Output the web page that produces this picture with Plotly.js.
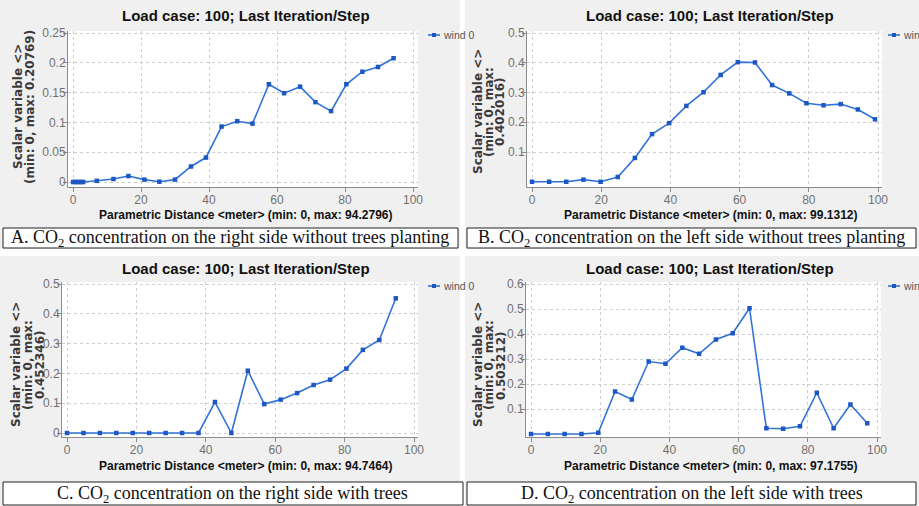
<!DOCTYPE html>
<html><head><meta charset="utf-8">
<script src="https://cdn.plot.ly/plotly-3.0.1.min.js"></script>
<style>html,body{margin:0;padding:0;background:#fff}#chart{width:919px;height:506px}</style>
</head><body><div id="chart"></div>
<script>
// ---- data ----
const seriesName = "wind 0";
const chartTitle = "Load case: 100; Last Iteration/Step";

const xA = [0,0.6,1.2,1.8,2.4,3.0,7.0,11.9,16.3,21.0,25.4,30.0,34.7,39.1,43.7,48.3,52.8,57.6,62.1,66.8,71.3,75.9,80.4,85.1,89.7,94.28];
const yA = [0,0,0,0,0,0,0.002,0.005,0.010,0.004,0.0005,0.004,0.026,0.041,0.093,0.102,0.098,0.164,0.149,0.160,0.134,0.119,0.164,0.185,0.193,0.2077];

const xB = [0,4.96,9.91,14.87,19.83,24.78,29.74,34.70,39.65,44.61,49.57,54.52,59.48,64.44,69.39,74.35,79.31,84.26,89.22,94.18,99.13];
const yB = [0,0,0,0.007,0,0.016,0.08,0.16,0.197,0.255,0.301,0.359,0.402,0.401,0.325,0.297,0.264,0.257,0.261,0.243,0.21];

const xC = [0,4.74,9.47,14.21,18.95,23.69,28.42,33.16,37.90,42.64,47.37,52.11,56.85,61.59,66.32,71.06,75.80,80.53,85.27,90.01,94.75];
const yC = [0,0,0,0,0,0,0,0,0,0.104,0,0.209,0.097,0.112,0.134,0.161,0.179,0.216,0.279,0.312,0.452];

const xD = [0,4.86,9.72,14.58,19.44,24.29,29.15,34.01,38.87,43.73,48.59,53.45,58.31,63.16,68.02,72.88,77.74,82.60,87.46,92.32,97.18];
const yD = [0,0,0,0,0.005,0.17,0.138,0.29,0.281,0.345,0.321,0.378,0.403,0.503,0.023,0.021,0.031,0.165,0.023,0.118,0.043];

const xTitles = [
  "Parametric Distance &lt;meter&gt; (min: 0, max: 94.2796)",
  "Parametric Distance &lt;meter&gt; (min: 0, max: 99.1312)",
  "Parametric Distance &lt;meter&gt; (min: 0, max: 94.7464)",
  "Parametric Distance &lt;meter&gt; (min: 0, max: 97.1755)"
];
const yTitleLines = [
  ["Scalar variable &lt;&gt;", "(min: 0, max: 0.20769)"],
  ["Scalar variable &lt;&gt;", "(min: 0, max:", "0.402016)"],
  ["Scalar variable &lt;&gt;", "(min: 0, max:", "0.452346)"],
  ["Scalar variable &lt;&gt;", "(min: 0, max:", "0.503212)"]
];
const captions = [
  "A. CO<sub>2</sub> concentration on the right side without trees planting",
  "B. CO<sub>2</sub> concentration on the left side without trees planting",
  "C. CO<sub>2</sub> concentration on the right side with trees",
  "D. CO<sub>2</sub> concentration on the left side with trees"
];
const yTickVals = [
  [0,0.05,0.1,0.15,0.2,0.25],
  [0.1,0.2,0.3,0.4,0.5],
  [0,0.1,0.2,0.3,0.4,0.5],
  [0.1,0.2,0.3,0.4,0.5,0.6]
];
const xTickVals = [0,20,40,60,80,100];

// ---- layout geometry (pixels) ----
const W = 919, H = 506;
const fx = p => p / W, fy = p => 1 - p / H;
const panels = [
  {l:68, r:418, t:31, b:187, x0:73, x100:413, yv1:0, yp1:182, yv2:0.25, yp2:33, cx:246, titleY:15, xtY:215, ytX:[18,30], ytY:107, cap:[3,458,228,248], leg:[428,35]},
  {l:527, r:882, t:31, b:187, x0:532, x100:878, yv1:0.1, yp1:152, yv2:0.5, yp2:33, cx:710, titleY:15, xtY:215, ytX:[478,489,500], ytY:112, cap:[467,916,228,248], leg:[888,35]},
  {l:62, r:418, t:282, b:437, x0:67, x100:414, yv1:0, yp1:433, yv2:0.5, yp2:284, cx:246, titleY:268, xtY:466, ytX:[16,28,40], ytY:365, cap:[3,463,482,505], leg:[428,286]},
  {l:526, r:881, t:282, b:437, x0:531, x100:877, yv1:0.1, yp1:409, yv2:0.6, yp2:284, cx:710, titleY:268, xtY:466, ytX:[478,489,501], ytY:365, cap:[467,916,482,505], leg:[888,286]}
];
const xs = [xA,xB,xC,xD], ys = [yA,yB,yC,yD];

const narrow = "Liberation Sans Narrow, Liberation Sans, sans-serif";
const tickFont = {family:narrow, size:12, color:"#707070"};
const lineColor = "#3072d6", markerColor = "#1c58c4";
const layout = {
  width:W, height:H, margin:{l:0,r:0,t:0,b:0},
  paper_bgcolor:"#f0f0f0", plot_bgcolor:"#ffffff",
  showlegend:false, annotations:[], shapes:[]
};
const data = [];
panels.forEach((p,i)=>{
  const n = i===0 ? "" : String(i+1);
  const sx = (p.x100 - p.x0)/100;
  const sy = (p.yp1 - p.yp2)/(p.yv2 - p.yv1);
  const y0px = p.yp1 + p.yv1*sy;
  const xr = [(p.l - p.x0)/sx, (p.r - p.x0)/sx];
  const yr = [(y0px - p.b)/sy, (y0px - p.t)/sy];
  const axCommon = {showline:true, linecolor:"#8c8c8c", linewidth:1, ticks:"outside", ticklen:4, tickcolor:"#8c8c8c",
    showgrid:true, gridcolor:"#cfcfcf", griddash:"dot", gridwidth:1, zeroline:false, tickfont:tickFont, fixedrange:true, automargin:false};
  layout["xaxis"+n] = Object.assign({}, axCommon, {domain:[fx(p.l), fx(p.r)], range:xr, anchor:"y"+n, tickvals:xTickVals, ticklabelstandoff:-2});
  layout["yaxis"+n] = Object.assign({}, axCommon, {domain:[fy(p.b), fy(p.t)], range:yr, anchor:"x"+n, tickvals:yTickVals[i], ticklabelstandoff:-5});
  data.push({x:xs[i], y:ys[i], type:"scatter", mode:"lines+markers", name:seriesName,
    xaxis:"x"+n, yaxis:"y"+n,
    line:{color:lineColor, width:1.6}, marker:{symbol:"square", size:4.5, color:markerColor}, cliponaxis:false});
  layout.annotations.push({text:"<b>"+chartTitle+"</b>", x:fx(p.cx), y:fy(p.titleY), xref:"paper", yref:"paper",
    xanchor:"center", yanchor:"middle", showarrow:false,
    font:{family:narrow, size:15, color:"#111"}});
  layout.annotations.push({text:"<b>"+xTitles[i]+"</b>", x:fx(p.cx), y:fy(p.xtY), xref:"paper", yref:"paper",
    xanchor:"center", yanchor:"middle", showarrow:false,
    font:{family:narrow, size:12, color:"#111"}});
  yTitleLines[i].forEach((t,k)=>{
    layout.annotations.push({text:"<b>"+t+"</b>", x:fx(p.ytX[k]), y:fy(p.ytY), xref:"paper", yref:"paper",
      xanchor:"center", yanchor:"middle", showarrow:false, textangle:-90,
      font:{family:"DejaVu Sans, sans-serif", size:12, color:"#3a3a3a"}});
  });
  // legend (drawn manually so it can sit at the panel edge like the original)
  const lg = p.leg;
  layout.shapes.push({type:"line", xref:"paper", yref:"paper", x0:fx(lg[0]), x1:fx(lg[0]+12), y0:fy(lg[1]), y1:fy(lg[1]),
    line:{color:lineColor, width:1.6}});
  layout.shapes.push({type:"rect", xref:"paper", yref:"paper", x0:fx(lg[0]+4), x1:fx(lg[0]+8), y0:fy(lg[1]+2), y1:fy(lg[1]-2),
    line:{width:0}, fillcolor:markerColor});
  layout.annotations.push({text:seriesName, x:fx(lg[0]+13), y:fy(lg[1]), xref:"paper", yref:"paper",
    xanchor:"left", yanchor:"middle", showarrow:false, font:{family:narrow, size:10.5, color:"#555"}});
  // caption box
  const c = p.cap;
  layout.shapes.push({type:"rect", xref:"paper", yref:"paper", x0:fx(c[0]), x1:fx(c[1]), y0:fy(c[3]), y1:fy(c[2]),
    line:{color:"#222", width:1}, fillcolor:"#ffffff", layer:"above"});
  layout.annotations.push({text:captions[i], x:fx((c[0]+c[1])/2), y:fy((c[2]+c[3])/2+1), xref:"paper", yref:"paper",
    xanchor:"center", yanchor:"middle", showarrow:false,
    font:{family:"Liberation Serif, Times New Roman, serif", size:18, color:"#111"}});
});
// white separators between the screenshots
layout.shapes.push({type:"rect", xref:"paper", yref:"paper", x0:0, x1:1, y0:fy(256), y1:fy(249), line:{width:0}, fillcolor:"#ffffff", layer:"below"});
layout.shapes.push({type:"rect", xref:"paper", yref:"paper", x0:fx(460), x1:fx(465), y0:0, y1:1, line:{width:0}, fillcolor:"#ffffff", layer:"below"});

Plotly.newPlot("chart", data, layout, {displayModeBar:false, staticPlot:true});
</script></body></html>
